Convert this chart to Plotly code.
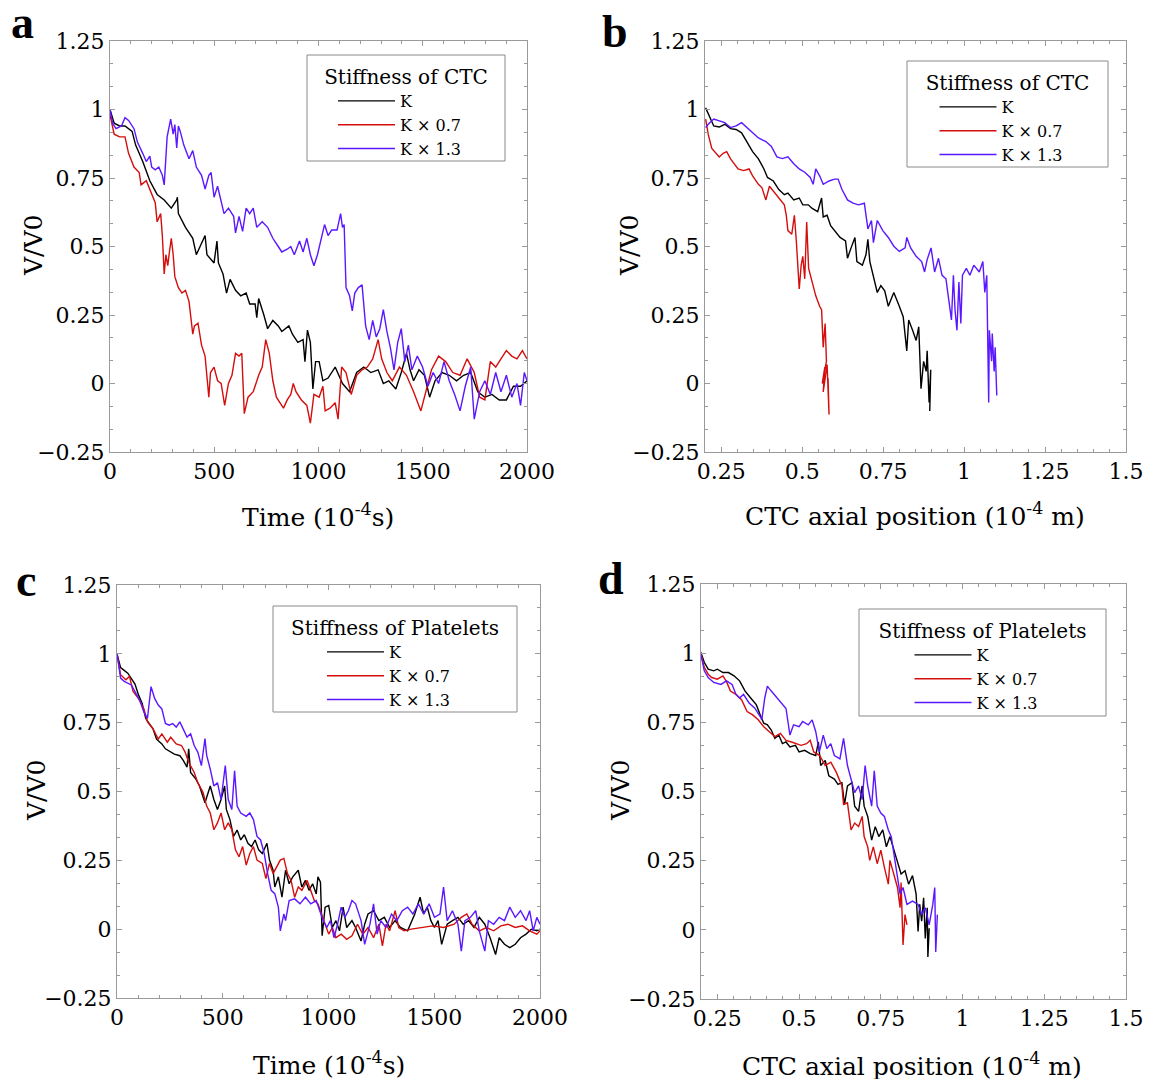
import plotly.graph_objects as go

# ----------------------------- DATA -----------------------------
# Panel a : Stiffness of CTC, V/V0 vs time (1e-4 s)
a_K_t = [0,20,46,72,106,123,157,191,226,260,294,320,323,328,362,397,414,431,456,465,499,513,520,542,559,576,602,627,653,670,696,704,713,738,756,781,807,824,841,858,875,901,926,935,947,961,973,986,1003,1021,1046,1080,1115,1149,1183,1217,1251,1286,1311,1337,1371,1397,1422,1439,1456,1482,1508,1533,1559,1593,1627,1662,1696,1730,1764,1798,1832,1867,1901,1935,1969,2000]
a_K_v = [1.0,0.95,0.94,0.94,0.92,0.87,0.81,0.74,0.69,0.67,0.64,0.67,0.68,0.62,0.57,0.53,0.47,0.50,0.54,0.47,0.44,0.52,0.44,0.40,0.33,0.38,0.34,0.32,0.33,0.29,0.29,0.24,0.31,0.25,0.20,0.23,0.21,0.19,0.20,0.21,0.18,0.15,0.16,0.08,0.195,0.15,-0.02,0.08,0.08,0.01,0.02,0.06,0.0,-0.03,0.04,0.06,0.04,0.05,0.0,0.01,-0.02,0.04,0.11,0.05,0.01,0.05,0.03,-0.05,0.01,0.04,0.03,0.01,0.03,0.04,-0.03,-0.05,-0.04,-0.06,-0.06,-0.01,-0.01,0.01]

a_K07_t = [0,20,46,72,89,115,140,149,174,200,217,226,243,251,260,268,277,285,294,303,311,328,345,362,379,397,405,422,439,456,465,474,482,499,516,533,550,568,585,602,619,632,644,662,687,713,730,747,764,781,798,815,832,850,867,879,892,918,944,961,978,1003,1021,1032,1055,1080,1094,1111,1132,1157,1183,1209,1234,1260,1286,1303,1328,1354,1388,1422,1456,1491,1516,1542,1576,1610,1644,1679,1713,1747,1773,1798,1824,1850,1875,1901,1927,1952,1978,2000]
a_K07_v = [0.98,0.91,0.90,0.90,0.84,0.79,0.77,0.725,0.74,0.69,0.66,0.59,0.62,0.54,0.40,0.47,0.43,0.48,0.53,0.47,0.39,0.35,0.33,0.34,0.30,0.18,0.21,0.22,0.14,0.10,0.01,-0.05,0.04,0.06,0.01,0.0,-0.08,0.0,0.03,0.11,0.10,0.11,-0.11,-0.05,-0.03,0.03,0.06,0.16,0.11,0.01,-0.05,-0.07,-0.09,-0.06,-0.04,0.0,-0.03,-0.06,-0.08,-0.145,-0.04,-0.05,-0.01,-0.10,-0.09,-0.07,-0.13,0.06,0.04,-0.04,0.03,0.05,0.06,0.09,0.16,0.09,0.04,0.01,0.06,0.03,-0.03,-0.10,-0.03,0.05,0.10,0.08,0.04,0.03,0.09,0.04,-0.05,-0.06,0.08,0.06,0.09,0.12,0.10,0.09,0.12,0.09]

a_K13_t = [0,12,29,55,72,89,115,132,157,174,191,200,217,234,251,260,274,291,303,311,320,328,337,354,379,397,414,439,456,474,485,499,516,533,547,568,593,602,619,636,653,670,687,704,730,756,781,807,824,850,867,884,909,926,944,961,978,995,1012,1029,1046,1063,1089,1106,1115,1123,1132,1149,1162,1174,1191,1209,1226,1243,1260,1277,1294,1311,1328,1345,1362,1380,1397,1414,1431,1448,1474,1499,1525,1550,1576,1602,1627,1653,1679,1704,1730,1747,1773,1798,1824,1850,1875,1901,1927,1952,1969,1987,2000]
a_K13_v = [1.0,0.95,0.93,0.94,0.97,0.96,0.93,0.88,0.84,0.81,0.83,0.79,0.78,0.79,0.76,0.725,0.90,0.965,0.91,0.945,0.86,0.94,0.92,0.87,0.82,0.85,0.79,0.76,0.71,0.76,0.77,0.68,0.72,0.67,0.62,0.64,0.61,0.55,0.61,0.555,0.64,0.62,0.64,0.57,0.59,0.57,0.53,0.50,0.48,0.49,0.50,0.47,0.52,0.48,0.53,0.47,0.43,0.47,0.52,0.58,0.54,0.56,0.56,0.62,0.57,0.58,0.35,0.32,0.265,0.33,0.35,0.36,0.21,0.16,0.23,0.17,0.20,0.27,0.19,0.13,0.05,0.15,0.20,0.08,0.14,0.05,0.10,0.06,-0.01,0.04,0.0,0.08,0.01,-0.04,-0.10,-0.01,0.06,-0.13,-0.03,0.01,-0.04,0.04,-0.03,0.03,-0.05,0.0,-0.08,0.04,0.01]

# Panel b : Stiffness of CTC, V/V0 vs CTC axial position (1e-4 m)
b_K_x = [0.202,0.216,0.227,0.244,0.261,0.279,0.296,0.313,0.330,0.347,0.365,0.382,0.393,0.411,0.428,0.445,0.456,0.474,0.491,0.502,0.519,0.531,0.548,0.560,0.565,0.577,0.588,0.606,0.617,0.634,0.640,0.651,0.663,0.669,0.686,0.697,0.703,0.709,0.720,0.732,0.743,0.755,0.766,0.783,0.800,0.812,0.823,0.829,0.841,0.852,0.860,0.867,0.875,0.883,0.886,0.892,0.897,0.894]
b_K_v = [1.006,0.97,0.94,0.936,0.946,0.93,0.927,0.915,0.883,0.846,0.82,0.783,0.752,0.739,0.708,0.689,0.695,0.670,0.677,0.652,0.652,0.639,0.627,0.677,0.608,0.614,0.576,0.551,0.533,0.520,0.457,0.495,0.533,0.445,0.432,0.470,0.526,0.445,0.395,0.332,0.357,0.338,0.282,0.332,0.282,0.244,0.119,0.232,0.194,0.157,0.207,-0.019,0.081,0.044,0.119,-0.069,0.05,-0.10]

b_K07_x = [0.202,0.210,0.221,0.233,0.244,0.256,0.267,0.279,0.290,0.302,0.319,0.336,0.347,0.365,0.376,0.388,0.399,0.411,0.428,0.445,0.451,0.456,0.468,0.476,0.482,0.491,0.497,0.502,0.508,0.514,0.520,0.531,0.542,0.554,0.560,0.565,0.571,0.575,0.562,0.570,0.565,0.577,0.583,0.580]
b_K07_v = [0.965,0.909,0.858,0.84,0.827,0.84,0.846,0.82,0.802,0.783,0.777,0.783,0.758,0.727,0.714,0.670,0.720,0.702,0.677,0.652,0.614,0.558,0.545,0.614,0.520,0.345,0.432,0.464,0.382,0.589,0.420,0.370,0.320,0.282,0.269,0.132,0.219,0.081,0.0,0.06,-0.031,0.069,-0.113,0.019]

b_K13_x = [0.202,0.210,0.227,0.244,0.261,0.279,0.296,0.313,0.330,0.347,0.365,0.388,0.405,0.422,0.439,0.456,0.474,0.491,0.508,0.525,0.534,0.542,0.554,0.565,0.583,0.600,0.611,0.623,0.640,0.657,0.674,0.692,0.697,0.703,0.714,0.720,0.732,0.749,0.766,0.783,0.800,0.818,0.823,0.835,0.852,0.869,0.878,0.886,0.898,0.909,0.921,0.932,0.944,0.955,0.961,0.967,0.972,0.978,0.984,0.990,0.995,1.007,1.018,1.030,1.047,1.058,1.064,1.070,1.076,1.078,1.085,1.087,1.093,1.096,1.101]
b_K13_v = [0.934,0.946,0.965,0.959,0.952,0.934,0.940,0.952,0.934,0.915,0.896,0.883,0.865,0.827,0.821,0.827,0.802,0.783,0.771,0.752,0.727,0.783,0.758,0.727,0.739,0.746,0.746,0.708,0.670,0.658,0.652,0.658,0.608,0.564,0.595,0.514,0.595,0.558,0.533,0.501,0.482,0.495,0.533,0.495,0.464,0.445,0.407,0.452,0.495,0.407,0.457,0.395,0.382,0.294,0.232,0.395,0.269,0.194,0.370,0.219,0.395,0.420,0.395,0.432,0.407,0.445,0.332,0.395,-0.069,0.194,0.081,0.182,0.044,0.132,-0.044]

# Panel c : Stiffness of Platelets, V/V0 vs time (1e-4 s)
c_K_t = [0,17,34,51,68,85,102,119,136,153,170,187,212,229,254,271,297,314,331,339,348,373,390,416,441,458,475,492,509,517,534,551,568,585,602,619,636,653,670,687,709,721,738,746,763,780,797,814,831,857,874,891,908,925,942,950,962,970,984,1001,1018,1035,1052,1069,1086,1111,1128,1154,1171,1187,1213,1238,1264,1289,1315,1340,1374,1408,1433,1450,1467,1484,1501,1518,1535,1561,1586,1612,1637,1662,1688,1713,1739,1764,1790,1807,1832,1857,1883,1908,1934,1959,1985,2000]
c_K_v = [1.0,0.95,0.94,0.93,0.91,0.89,0.85,0.82,0.765,0.747,0.728,0.69,0.673,0.655,0.643,0.636,0.63,0.612,0.588,0.655,0.569,0.545,0.520,0.459,0.520,0.471,0.435,0.471,0.520,0.435,0.398,0.337,0.36,0.324,0.343,0.312,0.30,0.324,0.288,0.275,0.312,0.251,0.214,0.153,0.19,0.116,0.214,0.165,0.19,0.214,0.153,0.177,0.141,0.165,0.128,0.19,0.171,-0.024,0.08,0.086,0.006,0.031,-0.006,0.08,0.006,0.031,0.006,-0.043,0.018,0.055,0.067,0.031,0.043,0.006,0.031,0.006,-0.006,0.055,0.116,0.055,0.08,0.031,0.006,0.031,-0.055,0.018,0.031,0.043,0.018,0.031,0.006,0.043,0.018,-0.031,-0.092,-0.031,-0.055,-0.067,-0.055,-0.031,-0.018,0.0,-0.006,0.0]

c_K07_t = [0,17,42,59,76,102,127,144,170,195,212,238,254,280,305,322,339,365,382,407,424,441,458,475,492,509,526,543,560,577,594,611,628,645,662,687,704,721,738,755,772,789,806,823,840,857,874,899,916,933,950,967,984,1001,1018,1035,1060,1086,1111,1137,1162,1187,1213,1238,1255,1272,1289,1315,1332,1357,1391,1442,1493,1544,1594,1628,1654,1679,1713,1747,1781,1815,1849,1883,1917,1951,1985,2000]
c_K07_v = [1.0,0.924,0.906,0.918,0.863,0.838,0.80,0.753,0.728,0.69,0.709,0.679,0.697,0.673,0.667,0.643,0.606,0.569,0.532,0.496,0.447,0.422,0.361,0.386,0.422,0.361,0.386,0.361,0.288,0.263,0.30,0.233,0.275,0.30,0.251,0.239,0.184,0.239,0.202,0.226,0.251,0.257,0.202,0.177,0.116,0.153,0.141,0.177,0.141,0.104,0.092,0.055,0.018,-0.018,0.006,-0.031,-0.018,-0.037,-0.024,0.018,-0.018,0.006,-0.031,0.018,-0.061,0.018,-0.006,0.067,0.006,-0.006,0.0,0.006,0.012,0.006,0.018,0.043,0.055,0.018,-0.006,0.006,-0.006,0.012,0.018,0.006,0.012,-0.006,-0.018,-0.006]

c_K13_t = [0,17,34,51,68,85,110,127,144,161,178,195,212,229,246,263,280,297,314,331,348,365,382,399,416,424,441,458,475,492,512,526,543,556,568,585,611,628,645,662,679,696,712,729,746,763,772,789,797,814,840,865,891,916,942,959,975,992,1009,1026,1043,1060,1077,1094,1111,1128,1154,1171,1196,1213,1230,1247,1272,1298,1323,1349,1374,1399,1425,1450,1476,1501,1527,1544,1561,1586,1612,1628,1645,1671,1696,1713,1739,1756,1781,1807,1832,1857,1883,1908,1934,1951,1968,1985,2000]
c_K13_v = [1.0,0.912,0.90,0.894,0.887,0.863,0.826,0.789,0.765,0.881,0.838,0.814,0.80,0.747,0.741,0.747,0.734,0.753,0.728,0.698,0.71,0.667,0.643,0.594,0.692,0.631,0.581,0.52,0.532,0.471,0.594,0.471,0.435,0.575,0.447,0.422,0.41,0.422,0.398,0.337,0.324,0.275,0.202,0.141,0.129,0.08,-0.006,0.055,0.031,0.104,0.11,0.092,0.116,0.092,0.104,0.067,0.031,0.006,0.031,-0.031,0.018,0.08,0.043,0.067,0.104,0.092,0.031,-0.055,0.018,0.092,-0.018,0.031,0.006,0.055,0.031,0.067,0.08,0.055,0.092,0.055,0.092,0.043,0.055,0.153,0.031,0.067,0.018,-0.08,0.031,0.043,0.067,-0.006,-0.08,0.031,0.018,0.043,0.031,0.08,0.043,0.067,0.031,0.067,-0.006,0.043,0.018]

# Panel d : Stiffness of Platelets, V/V0 vs CTC axial position (1e-4 m)
d_K_x = [0.199,0.210,0.222,0.239,0.25,0.267,0.284,0.301,0.318,0.335,0.352,0.369,0.381,0.392,0.403,0.415,0.426,0.438,0.449,0.460,0.472,0.489,0.50,0.517,0.534,0.551,0.559,0.566,0.580,0.591,0.608,0.619,0.631,0.639,0.648,0.662,0.670,0.682,0.693,0.699,0.710,0.722,0.733,0.744,0.756,0.767,0.778,0.790,0.801,0.812,0.824,0.835,0.847,0.858,0.864,0.869,0.875,0.881,0.886,0.892,0.894,0.898]
d_K_v = [1.004,0.967,0.942,0.936,0.942,0.93,0.93,0.918,0.90,0.863,0.838,0.814,0.777,0.747,0.741,0.722,0.692,0.704,0.673,0.679,0.661,0.667,0.643,0.649,0.637,0.63,0.679,0.594,0.612,0.557,0.545,0.526,0.532,0.453,0.52,0.532,0.447,0.428,0.52,0.447,0.41,0.324,0.373,0.337,0.361,0.30,0.337,0.288,0.239,0.202,0.214,0.165,0.196,0.129,-0.006,0.092,0.031,0.116,-0.031,0.08,-0.098,0.006]

d_K07_x = [0.199,0.210,0.222,0.233,0.25,0.267,0.278,0.290,0.307,0.324,0.341,0.358,0.375,0.392,0.409,0.426,0.443,0.460,0.477,0.489,0.506,0.523,0.534,0.545,0.563,0.580,0.597,0.614,0.631,0.636,0.648,0.659,0.670,0.682,0.693,0.699,0.710,0.716,0.727,0.739,0.750,0.761,0.773,0.778,0.790,0.801,0.809,0.812,0.818,0.824,0.830]
d_K07_v = [1.0,0.949,0.924,0.912,0.906,0.918,0.897,0.863,0.851,0.832,0.789,0.777,0.759,0.734,0.716,0.698,0.71,0.685,0.679,0.673,0.667,0.673,0.685,0.643,0.63,0.594,0.606,0.569,0.52,0.453,0.459,0.361,0.386,0.373,0.41,0.337,0.30,0.251,0.30,0.239,0.288,0.226,0.165,0.251,0.202,0.153,0.08,0.171,-0.055,0.055,0.018]

d_K13_x = [0.199,0.210,0.222,0.239,0.261,0.278,0.295,0.307,0.318,0.330,0.347,0.364,0.381,0.386,0.395,0.403,0.415,0.432,0.449,0.460,0.472,0.483,0.50,0.511,0.528,0.540,0.551,0.562,0.574,0.585,0.597,0.608,0.625,0.636,0.648,0.659,0.670,0.682,0.693,0.702,0.710,0.722,0.730,0.739,0.750,0.761,0.773,0.782,0.790,0.801,0.809,0.818,0.830,0.847,0.864,0.875,0.886,0.898,0.909,0.915,0.918,0.923]
d_K13_v = [1.0,0.936,0.912,0.894,0.887,0.90,0.887,0.851,0.838,0.851,0.82,0.802,0.771,0.759,0.838,0.881,0.863,0.838,0.814,0.80,0.704,0.741,0.734,0.753,0.741,0.759,0.716,0.643,0.704,0.655,0.673,0.63,0.618,0.692,0.594,0.545,0.496,0.52,0.471,0.594,0.52,0.447,0.575,0.447,0.422,0.41,0.361,0.337,0.275,0.202,0.129,0.153,0.092,0.104,0.092,0.055,0.08,0.018,0.092,0.153,-0.08,0.055]

series_names = ["K", "K \u00d7 0.7", "K \u00d7 1.3"]
legend_titles = ["Stiffness of CTC", "Stiffness of CTC", "Stiffness of Platelets", "Stiffness of Platelets"]
panel_letters = ["a", "b", "c", "d"]

time_ticks = [0, 500, 1000, 1500, 2000]
time_ticktext = ["0", "500", "1000", "1500", "2000"]
pos_ticks = [0.25, 0.5, 0.75, 1.0, 1.25, 1.5]
pos_ticktext = ["0.25", "0.5", "0.75", "1", "1.25", "1.5"]
v_ticks = [-0.25, 0, 0.25, 0.5, 0.75, 1.0, 1.25]
v_ticktext = ["\u22120.25", "0", "0.25", "0.5", "0.75", "1", "1.25"]

time_title = "Time (10<sup>-4</sup>s)"
pos_title = "CTC axial position (10<sup>-4</sup> m)"
v_title = "V/V0"

# ----------------------------- STYLE -----------------------------
VIEW_W, VIEW_H = 1162, 1079
OFF = 8                       # page body margin of the html page
W, H = VIEW_W - OFF, VIEW_H - OFF
SERIF = "DejaVu Serif"
LETTER_FONT = "Liberation Serif"
FRAME = "#9a9a9a"
COLORS = ["#000000", "#d40d0d", "#5b17ff"]

def px(x):
    return (x - OFF) / W

def py(y):
    return 1 - (y - OFF) / H

# plot areas in screen pixels: (left, top, right, bottom)
boxes = [(110, 41, 527, 452), (705, 41, 1126, 452), (117, 585, 540, 998), (701, 584, 1126, 999)]
# legend frames in screen pixels: (left, top, right, bottom) and entry indentation
legend_boxes = [(307, 55, 505, 161), (907, 61, 1108, 167), (273, 606, 517, 712), (859, 609, 1106, 716)]
legend_indent = [11, 11, 33, 33]
ylab_pos = [(33, 246), (629, 246), (36, 791), (620, 791)]
xlab_pos = [(318, 515), (915, 514), (329, 1063), (912, 1064)]
letter_pos = [(9, 23), (600, 31), (14, 580), (596, 578)]

panels = [
    ([a_K_t, a_K07_t, a_K13_t], [a_K_v, a_K07_v, a_K13_v], "time"),
    ([b_K_x, b_K07_x, b_K13_x], [b_K_v, b_K07_v, b_K13_v], "pos"),
    ([c_K_t, c_K07_t, c_K13_t], [c_K_v, c_K07_v, c_K13_v], "time"),
    ([d_K_x, d_K07_x, d_K13_x], [d_K_v, d_K07_v, d_K13_v], "pos"),
]

fig = go.Figure()
layout = dict(
    width=W, height=H, autosize=False,
    margin=dict(l=0, r=0, t=0, b=0, pad=0, autoexpand=False),
    paper_bgcolor="white", plot_bgcolor="white",
    font=dict(family=SERIF, color="black"),
    showlegend=True,
)
annotations = []
shapes = []

for i, (xs, vs, kind) in enumerate(panels):
    n = "" if i == 0 else str(i + 1)
    xa, ya = "x" + n, "y" + n
    lg = "legend" + n
    for k in range(3):
        fig.add_trace(go.Scatter(
            x=xs[k], y=vs[k], mode="lines", name=series_names[k],
            line=dict(color=COLORS[k], width=1.4),
            xaxis=xa, yaxis=ya, legend=lg,
        ))
    l, t, r, b = boxes[i]
    common = dict(
        showline=True, linecolor=FRAME, linewidth=1, mirror="ticks",
        ticks="inside", ticklen=5, tickcolor=FRAME, tickwidth=1,
        showgrid=False, zeroline=False, automargin=False,
        tickfont=dict(family=SERIF, size=22, color="black"),
        tickmode="array", ticklabelstandoff=0,
    )
    if kind == "time":
        xaxis = dict(common, domain=[px(l), px(r)], range=[0, 2000],
                     tickvals=time_ticks, ticktext=time_ticktext,
                     minor=dict(ticks="inside", ticklen=3, tickcolor=FRAME, dtick=100, tick0=0, showgrid=False))
    else:
        xaxis = dict(common, domain=[px(l), px(r)], range=[0.2, 1.5],
                     tickvals=pos_ticks, ticktext=pos_ticktext,
                     minor=dict(ticks="inside", ticklen=3, tickcolor=FRAME, dtick=0.05, tick0=0, showgrid=False))
    xaxis["anchor"] = ya
    yaxis = dict(common, domain=[py(b), py(t)], range=[-0.25, 1.25],
                 tickvals=v_ticks, ticktext=v_ticktext, anchor=xa,
                 minor=dict(ticks="inside", ticklen=3, tickcolor=FRAME, dtick=0.25 / 3, tick0=0, showgrid=False))
    layout["xaxis" + n] = xaxis
    layout["yaxis" + n] = yaxis

    # legend frame (white box) + native legend centred in it
    bl, bt, br, bb = legend_boxes[i]
    shapes.append(dict(type="rect", xref="paper", yref="paper",
                       x0=px(bl), x1=px(br), y0=py(bb), y1=py(bt),
                       line=dict(color="#8a8a8a", width=1), fillcolor="white", layer="above"))
    layout[lg] = dict(
        x=px((bl + br) / 2), y=py(bt + 3), xanchor="center", yanchor="top",
        xref="paper", yref="paper",
        bgcolor="rgba(0,0,0,0)", borderwidth=0,
        font=dict(family=SERIF, size=16, color="black"),
        title=dict(text=legend_titles[i], side="top center", font=dict(family=SERIF, size=20, color="black")),
        itemwidth=57, indentation=legend_indent[i], tracegroupgap=0,
    )

    # axis titles
    yx, yy = ylab_pos[i]
    annotations.append(dict(text=v_title, x=px(yx), y=py(yy), xref="paper", yref="paper",
                            showarrow=False, textangle=-90, xanchor="center", yanchor="middle",
                            font=dict(family=SERIF, size=25, color="black")))
    xx, xy = xlab_pos[i]
    annotations.append(dict(text=time_title if kind == "time" else pos_title,
                            x=px(xx), y=py(xy), xref="paper", yref="paper",
                            showarrow=False, xanchor="center", yanchor="middle",
                            font=dict(family=SERIF, size=25, color="black")))
    # panel letter
    ax_, ay_ = letter_pos[i]
    annotations.append(dict(text="<b>%s</b>" % panel_letters[i], x=px(ax_), y=py(ay_),
                            xref="paper", yref="paper", showarrow=False,
                            xanchor="left", yanchor="middle",
                            font=dict(family=LETTER_FONT, size=46, color="black")))

layout["annotations"] = annotations
layout["shapes"] = shapes
fig.update_layout(**layout)
fig.write_html("out.html")
